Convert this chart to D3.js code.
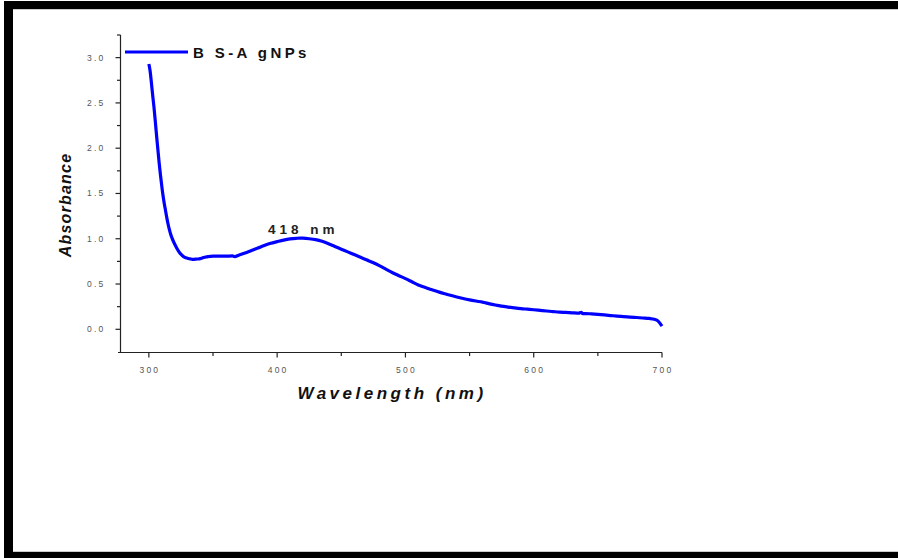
<!DOCTYPE html>
<html><head><meta charset="utf-8">
<script src="https://cdn.jsdelivr.net/npm/d3@7"></script>
<style>body{margin:0;background:#fff}svg{display:block}</style>
</head><body><svg id="c" width="898" height="558"></svg>
<script>
const wavelengths = [300,301,302,303,304,305,306,307,308,309,310,311,312,313,314,315,316,317,318,319,320,322,324,326,328,330,332,334,336,338,340,342,344,346,348,350,355,360,365,367,370,375,380,385,390,395,400,405,410,415,418,420,425,430,435,440,445,450,455,460,465,470,475,480,485,490,495,500,505,510,515,520,525,530,535,540,545,550,555,560,565,570,575,580,585,590,595,600,605,610,615,620,625,630,635,637,638,640,645,650,655,660,665,670,675,680,685,690,694,697,700];
const absorbance = [2.93,2.85,2.72,2.58,2.45,2.30,2.14,1.99,1.84,1.71,1.59,1.48,1.39,1.31,1.23,1.16,1.10,1.05,1.01,0.975,0.945,0.89,0.845,0.815,0.795,0.785,0.778,0.772,0.774,0.776,0.78,0.79,0.797,0.803,0.806,0.808,0.809,0.808,0.810,0.803,0.818,0.842,0.87,0.897,0.925,0.95,0.968,0.985,0.998,1.005,1.007,1.006,1.0,0.99,0.972,0.945,0.915,0.885,0.855,0.825,0.795,0.765,0.735,0.70,0.662,0.625,0.592,0.56,0.525,0.49,0.464,0.44,0.417,0.395,0.376,0.357,0.34,0.325,0.312,0.30,0.284,0.268,0.256,0.245,0.236,0.228,0.222,0.216,0.209,0.202,0.196,0.19,0.186,0.182,0.178,0.188,0.174,0.174,0.17,0.165,0.159,0.152,0.145,0.139,0.135,0.13,0.125,0.12,0.11,0.09,0.036];
const xTicks = [300,400,500,600,700];
const xMinor = [350,450,550,650];
const yTicks = [0,0.5,1.0,1.5,2.0,2.5,3.0];
const yMinor = [0.25,0.75,1.25,1.75,2.25,2.75,3.25];
const seriesName = "B S-A gNPs";
const peakLabel = "418 nm";
const xTitle = "Wavelength (nm)";
const yTitle = "Absorbance";

const svg = d3.select("#c");
const blue = "#0000ff";
// frame
svg.append("rect").attr("x",4).attr("y",1).attr("width",894).attr("height",8).attr("fill","#000");
svg.append("rect").attr("x",4).attr("y",1).attr("width",9).attr("height",557).attr("fill","#000");
svg.append("rect").attr("x",4).attr("y",552).attr("width",894).attr("height",6).attr("fill","#000");
svg.append("line").attr("x1",13).attr("x2",898).attr("y1",9.5).attr("y2",9.5).attr("stroke","#ccc");
svg.append("line").attr("x1",13).attr("x2",898).attr("y1",551.5).attr("y2",551.5).attr("stroke","#ccc");

const x = d3.scaleLinear().domain([277.5,700]).range([120,662]);
const y = d3.scaleLinear().domain([-0.254,3.25]).range([352.3,35]);

const fontTick = "'Liberation Sans', Arial, sans-serif";
// x axis
const gx = svg.append("g").attr("transform","translate(0,352.5)");
gx.append("line").attr("x1",118).attr("x2",x(700)).attr("stroke","#222").attr("stroke-width",1.2);
gx.selectAll("line.maj").data(xTicks).join("line").attr("class","maj")
  .attr("x1",d=>x(d)).attr("x2",d=>x(d)).attr("y1",0).attr("y2",5).attr("stroke","#222").attr("stroke-width",1.2);
gx.selectAll("line.min").data(xMinor).join("line").attr("class","min")
  .attr("x1",d=>x(d)).attr("x2",d=>x(d)).attr("y1",0).attr("y2",3.5).attr("stroke","#222").attr("stroke-width",1.2);
gx.selectAll("text").data(xTicks).join("text")
  .attr("x",d=>x(d)+1).attr("y",20).attr("text-anchor","middle")
  .attr("font-family",fontTick).attr("font-size",8.5).attr("fill","#555").attr("letter-spacing",2.2)
  .text(d=>d);
// y axis
const gy = svg.append("g").attr("transform","translate(120.5,0)");
gy.append("line").attr("y1",y(3.25)).attr("y2",352.5).attr("stroke","#222").attr("stroke-width",1.2);
gy.selectAll("line.maj").data(yTicks).join("line").attr("class","maj")
  .attr("y1",d=>y(d)).attr("y2",d=>y(d)).attr("x1",0).attr("x2",-5).attr("stroke","#222").attr("stroke-width",1.2);
gy.selectAll("line.min").data(yMinor).join("line").attr("class","min")
  .attr("y1",d=>y(d)).attr("y2",d=>y(d)).attr("x1",0).attr("x2",-3.5).attr("stroke","#222").attr("stroke-width",1.2);
gy.selectAll("text").data(yTicks).join("text")
  .attr("x",-15).attr("y",d=>y(d)+3).attr("text-anchor","end")
  .attr("font-family",fontTick).attr("font-size",8.5).attr("fill","#555").attr("letter-spacing",2.2)
  .text(d=>d.toFixed(1));

// titles
svg.append("text").attr("transform","translate(71,205) rotate(-90)").attr("text-anchor","middle")
  .attr("font-family",fontTick).attr("font-size",16).attr("font-weight","bold").attr("font-style","italic")
  .attr("letter-spacing",1.2).attr("fill","#111").text(yTitle);
svg.append("text").attr("x",392).attr("y",399).attr("text-anchor","middle")
  .attr("font-family",fontTick).attr("font-size",17).attr("font-weight","bold").attr("font-style","italic")
  .attr("letter-spacing",3.5).attr("fill","#111").text(xTitle);

// curve
const pts = wavelengths.map((w,i)=>[w,absorbance[i]]);
svg.append("path").datum(pts)
  .attr("d", d3.line().x(d=>x(d[0])).y(d=>y(d[1])).curve(d3.curveMonotoneX))
  .attr("fill","none").attr("stroke",blue).attr("stroke-width",3.2).attr("stroke-linejoin","round");

// legend
svg.append("line").attr("x1",125).attr("x2",188).attr("y1",52).attr("y2",52).attr("stroke",blue).attr("stroke-width",3.2);
svg.append("text").attr("x",193).attr("y",57.5).attr("font-family",fontTick).attr("font-size",15).attr("font-weight","bold")
  .attr("letter-spacing",3.4).attr("fill","#111").text(seriesName);

// peak annotation
svg.append("text").attr("x",268).attr("y",234).attr("font-family",fontTick).attr("font-size",13.5).attr("font-weight","bold")
  .attr("letter-spacing",4).attr("fill","#222").text(peakLabel);
</script></body></html>
